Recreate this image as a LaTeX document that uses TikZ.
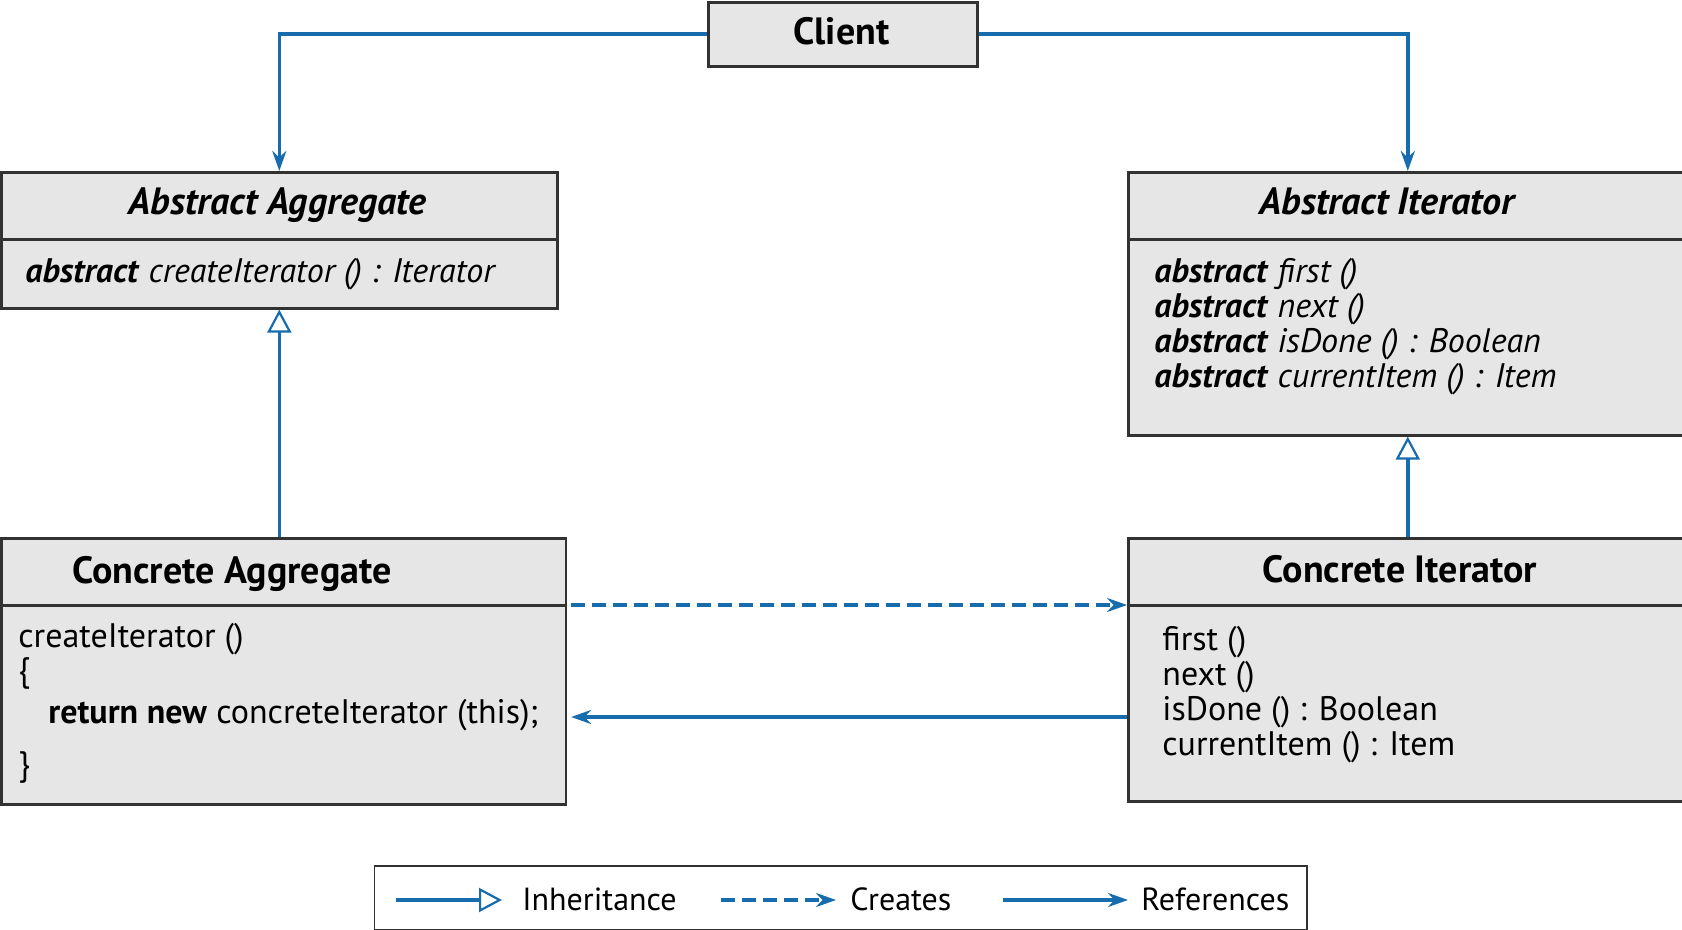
\documentclass[tikz,border=0pt]{standalone}
\usepackage{fontspec}
\setmainfont{PT Sans}
\usetikzlibrary{arrows.meta}

\definecolor{umlblue}{RGB}{22,108,172}
\definecolor{boxgray}{RGB}{230,230,230}
\definecolor{boxline}{RGB}{50,50,50}

\tikzset{
	classbox/.style={draw=boxline, fill=boxgray, line width=1.3pt, anchor=north west, inner sep=0pt},
	divider/.style={draw=boxline, line width=1.2pt},
	refline/.style={draw=umlblue, line width=1.8pt, -{Stealth[length=10pt,width=7pt]}},
	createline/.style={refline, dash pattern=on 7pt off 3.5pt},
	inhline/.style={draw=umlblue, line width=1.8pt, -{Triangle[open,length=11.5pt,width=12pt,fill=white,line width=1.1pt]}},
	classtitle/.style={font=\fontsize{19}{22}\selectfont\bfseries, anchor=base, inner sep=0pt},
	member/.style={font=\fontsize{17}{19}\selectfont, anchor=base west, inner sep=0pt},
	legendtext/.style={font=\fontsize{16}{18}\selectfont, anchor=base west, inner sep=0pt},
}

\begin{document}
\begin{tikzpicture}[x=0.5pt,y=-0.5pt]
	\useasboundingbox (0,0) rectangle (1682,930);
	
	% class boxes
	\node[classbox, minimum width=134.5pt, minimum height=32pt] (client) at (707,1) {};
	\node[classbox, minimum width=278pt, minimum height=68pt] (absagg) at (0,171) {};
	\node[classbox, minimum width=279.5pt, minimum height=131.5pt] (absit) at (1127,171) {};
	\node[classbox, minimum width=282.25pt, minimum height=133pt] (concagg) at (0,537) {};
	\node[classbox, minimum width=279.5pt, minimum height=131.5pt] (concit) at (1127,537) {};
	\foreach \b in {absagg,absit,concagg,concit}
		\draw[divider] ([yshift=-34.25pt]\b.north west) -- ([yshift=-34.25pt]\b.north east);
	
	% titles
	\node[classtitle] (clienttitle) at (841.5,45) {Client};
	\node[classtitle, font=\fontsize{19}{22}\selectfont\bfseries\itshape] (absaggtitle) at (277.5,215) {Abstract Aggregate};
	\node[classtitle, font=\fontsize{19}{22}\selectfont\bfseries\itshape] (absittitle) at (1387,215) {Abstract Iterator};
	\node[classtitle] (concaggtitle) at (232,583) {Concrete Aggregate};
	\node[classtitle] (concittitle) at (1400,582) {Concrete Iterator};
	
	% members
	\node[member] (absagg1) at (25,283) {\textbf{\textit{abstract}} \textit{createIterator () : Iterator}};
	\foreach \t [count=\i] in {first (), next (), isDone () : Boolean, currentItem () : Item}
		\node[member] (absit\i) at (1154,{283+35*(\i-1)}) {\textbf{\textit{abstract}} \textit{\t}};
	\node[member] (concagg1) at (18,647) {createIterator ()};
	\node[member] (concagg2) at (18,681) {\{};
	\node[member] (concagg3) at (48,723) {\textbf{return new} concreteIterator (this);};
	\node[member] (concagg4) at (18,775) {\}};
	\foreach \t [count=\i] in {first (), next (), isDone () : Boolean, currentItem () : Item}
		\node[member] (concit\i) at (1162,{650+35*(\i-1)}) {\t};
	
	% connectors
	\draw[refline] (client.west) -| (absagg.north);
	\draw[refline] (client.east) -| (absit.north);
	\draw[inhline] (absagg.south |- concagg.north) -- (absagg.south);
	\draw[inhline] (concit.north) -- (absit.south);
	\draw[createline] ([xshift=2pt,yshift=-34pt]concagg.north east) -- ([yshift=-34pt]concit.north west);
	\coordinate (ret) at (0,717);
	\draw[refline] (concit.west |- ret) -- ([xshift=2pt]concagg.east |- ret);
	
	% legend
	\node[draw=boxline, fill=white, line width=0.8pt, anchor=north west, inner sep=0pt,
		minimum width=466.25pt, minimum height=32pt] (legend) at (373.5,865) {};
	\coordinate (inhA) at (395.5,900); \coordinate (inhB) at (502,900);
	\coordinate (creA) at (721,900); \coordinate (creB) at (836,900);
	\coordinate (refA) at (1003,900); \coordinate (refB) at (1128,900);
	\draw[inhline, line width=2.2pt] (inhA) -- (inhB);
	\draw[createline, line width=2.2pt] (creA) -- (creB);
	\draw[refline, line width=2.2pt] (refA) -- (refB);
	\node[legendtext] (inhtext) at (522,910) {Inheritance};
	\node[legendtext] (cretext) at (850,910) {Creates};
	\node[legendtext] (reftext) at (1141,910) {References};
\end{tikzpicture}
\end{document}
